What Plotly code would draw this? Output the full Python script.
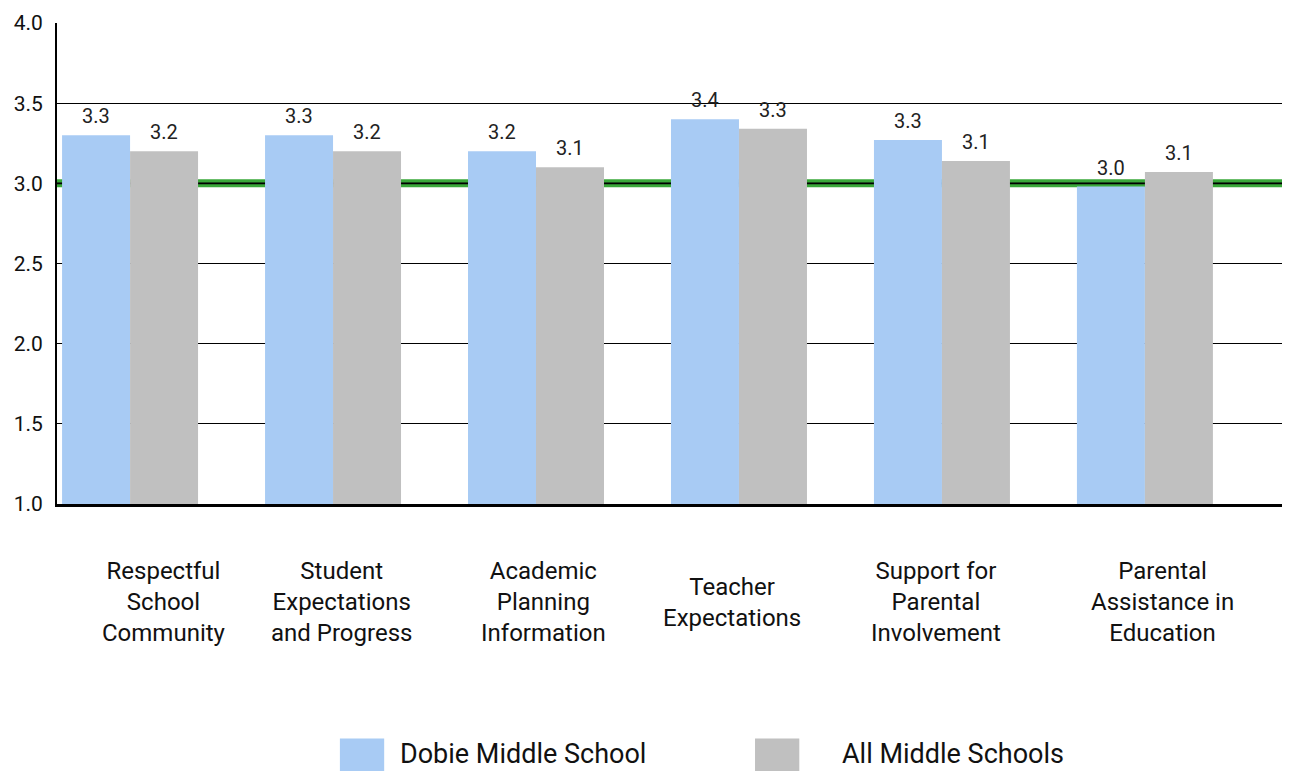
import plotly.graph_objects as go

categories = ["Respectful<br>School<br>Community", "Student<br>Expectations<br>and Progress",
              "Academic<br>Planning<br>Information", "Teacher<br>Expectations",
              "Support for<br>Parental<br>Involvement", "Parental<br>Assistance in<br>Education"]
series_names = ["Dobie Middle School", "All Middle Schools"]
dobie = [3.30, 3.30, 3.20, 3.40, 3.27, 2.98]
all_ms = [3.20, 3.20, 3.10, 3.34, 3.14, 3.07]
reference_value = 3.0
y_ticks = [1.0, 1.5, 2.0, 2.5, 3.0, 3.5, 4.0]

colors = ["#a8cbf4", "#c0c0c0"]
label_shift = [34, 8, 7, -7, -6, 18]
FONT = "Roboto"
BARGAP = 0.33

x = list(range(len(categories)))
fig = go.Figure()
bar_w = (1 - BARGAP) / 2
for k, (name, vals, col) in enumerate(zip(series_names, [dobie, all_ms], colors)):
    fig.add_trace(go.Bar(
        x=x, y=vals, name=name, marker=dict(color=col, line=dict(width=0)),
        showlegend=False))
    off = (k - 0.5) * bar_w
    for i, v in zip(x, vals):
        fig.add_annotation(x=i + off, y=v, text=f"{v:.1f}", showarrow=False,
                           yanchor="bottom", yshift=5,
                           font=dict(family=FONT, size=20, color="#222"))

# reference line at 3.0
fig.add_shape(type="line", xref="paper", x0=0, x1=1, y0=reference_value, y1=reference_value,
              line=dict(color="#3aa83a", width=8), layer="below")
fig.add_shape(type="line", xref="paper", x0=0, x1=1, y0=reference_value, y1=reference_value,
              line=dict(color="#1d4d1d", width=2.5), layer="below")
# right border
fig.add_shape(type="line", xref="paper", yref="paper", x0=1, x1=1, y0=0, y1=1,
              line=dict(color="#888", width=2))

# category labels
for i, (c, s) in enumerate(zip(categories, label_shift)):
    fig.add_annotation(x=i, y=0, yref="paper", text=c, showarrow=False, xshift=s,
                       yanchor="middle", yshift=-98,
                       font=dict(family=FONT, size=24, color="#111"), align="center")

# legend
legend_pos = [(0.230, 0.2772), (0.5675, 0.6366)]
for (sx, tx), name, col in zip(legend_pos, series_names, colors):
    fig.add_shape(type="rect", xref="paper", yref="paper", x0=sx, x1=sx + 0.036,
                  y0=-0.56, y1=-0.4876, fillcolor=col, line=dict(width=0))
    fig.add_annotation(x=tx, y=-0.519, xref="paper", yref="paper", text=name,
                       showarrow=False, xanchor="left", yanchor="middle",
                       font=dict(family=FONT, size=27, color="#111"))

fig.update_layout(
    width=1282, height=763, margin=dict(l=49, r=3, t=12, b=267),
    plot_bgcolor="white", paper_bgcolor="white", barmode="group",
    bargap=BARGAP, bargroupgap=0, showlegend=False,
    xaxis=dict(range=[-0.36, 5.70], showticklabels=False, showgrid=False, zeroline=False,
               showline=True, linecolor="black", linewidth=3, ticks=""),
    yaxis=dict(range=[1.0, 4.0], tickvals=y_ticks, tickformat=".1f", showgrid=True,
               gridcolor="black", gridwidth=1, zeroline=False, showline=True,
               linecolor="black", linewidth=2, ticks="", ticklen=0, ticklabelstandoff=8,
               tickfont=dict(family=FONT, size=21, color="#111")),
)
fig.write_html("out.html")
